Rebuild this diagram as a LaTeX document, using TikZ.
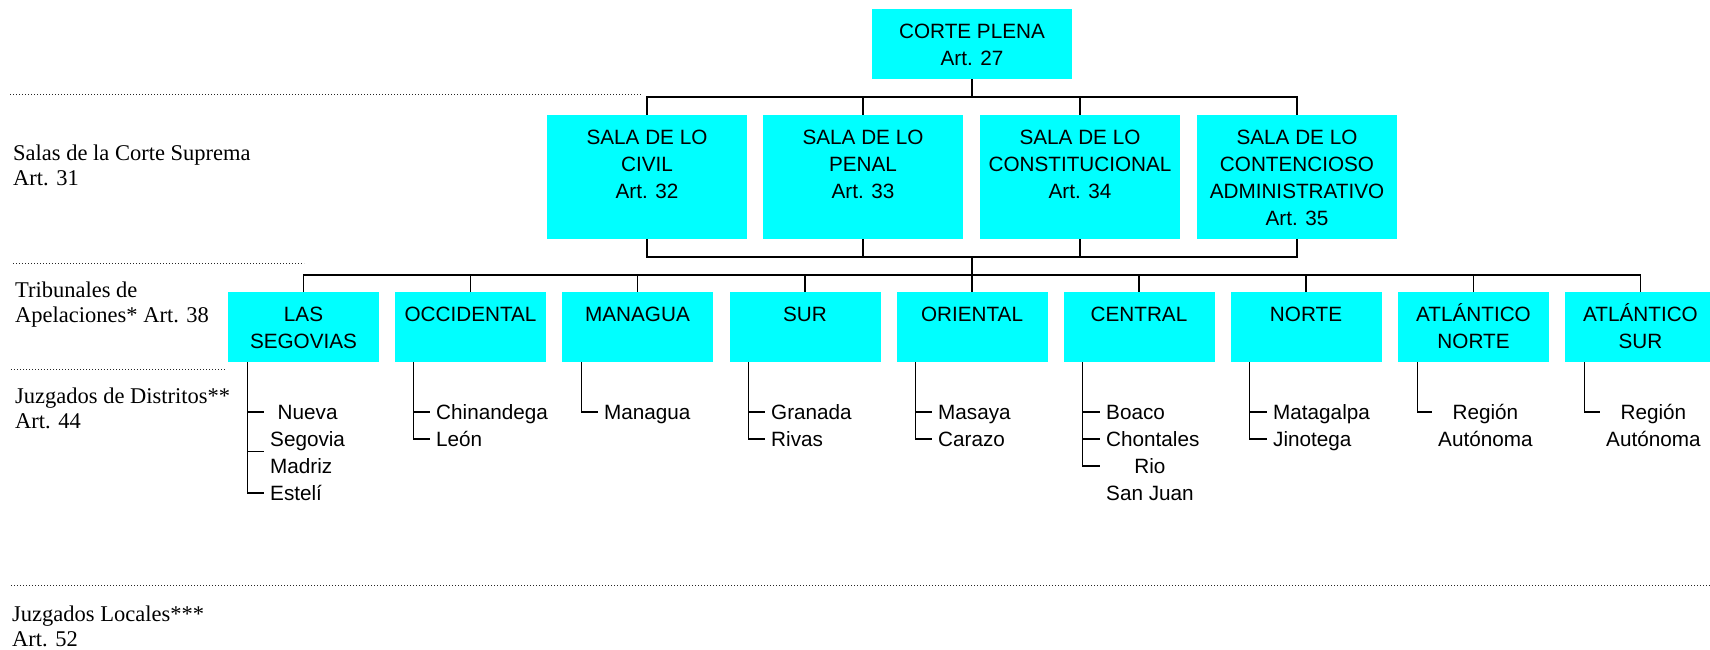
\documentclass[tikz,border=0pt]{standalone}
\usepackage{fontspec}
\setmainfont{Liberation Serif}
\newfontfamily\arialfont{Liberation Sans}
\definecolor{boxcyan}{RGB}{0,255,255}

\newcommand{\boxlines}[3]{\parbox[t][#1][t]{#2}{\centering\rule{0pt}{29pt}#3}}

\tikzset{
  orgbox/.style={fill=boxcyan, inner sep=0pt, anchor=north, font=\arialfont\fontsize{20.7}{27}\selectfont},
  distr/.style={anchor=north west, inner xsep=6pt, inner ysep=0pt, align=left, font=\arialfont\fontsize{20.7}{27}\selectfont, execute at begin node=\strut},
  lbl/.style={anchor=north west, inner sep=0pt, align=left, font=\fontsize{22.5}{25.5}\selectfont},
  conn/.style={line width=1.3pt},
  rowline/.style={line width=1pt, black!85, dash pattern=on 1pt off 2pt}
}

\begin{document}
\begin{tikzpicture}[x=1pt, y=-1pt]
  \useasboundingbox (0,0) rectangle (1710,649);

  \draw[rowline] (10,94) -- (641,94);
  \draw[rowline] (13,263) -- (304,263);
  \draw[rowline] (11,369) -- (226,369);
  \draw[rowline] (11,585) -- (1710,585);

  \node[lbl] (salaslbl) at (13,142) {\strut Salas de la Corte Suprema\\Art. 31};
  \node[lbl] (triblbl) at (15,279) {\strut Tribunales de\\Apelaciones* Art. 38};
  \node[lbl] (distlbl) at (15,385) {\strut Juzgados de Distritos**\\Art. 44};
  \node[lbl] (locallbl) at (12,603) {\strut Juzgados Locales***\\Art. 52};

  \node[orgbox] (corte) at (972,9) {\boxlines{70pt}{200pt}{CORTE PLENA\\Art. 27}};

  \node[orgbox] (civil) at (647,115) {\boxlines{124pt}{200pt}{SALA DE LO\\CIVIL\\Art. 32}};
  \node[orgbox] (penal) at (863,115) {\boxlines{124pt}{200pt}{SALA DE LO\\PENAL\\Art. 33}};
  \node[orgbox] (const) at (1080,115) {\boxlines{124pt}{200pt}{SALA DE LO\\CONSTITUCIONAL\\Art. 34}};
  \node[orgbox] (conten) at (1297,115) {\boxlines{124pt}{200pt}{SALA DE LO\\CONTENCIOSO\\ADMINISTRATIVO\\Art. 35}};

  \node[orgbox] (segovias) at (303.5,292) {\boxlines{70pt}{151pt}{LAS\\SEGOVIAS}};
  \node[orgbox] (occid) at (470.5,292) {\boxlines{70pt}{151pt}{OCCIDENTAL}};
  \node[orgbox] (managua) at (637.5,292) {\boxlines{70pt}{151pt}{MANAGUA}};
  \node[orgbox] (sur) at (805,292) {\boxlines{70pt}{151pt}{SUR}};
  \node[orgbox] (orient) at (972,292) {\boxlines{70pt}{151pt}{ORIENTAL}};
  \node[orgbox] (central) at (1139,292) {\boxlines{70pt}{151pt}{CENTRAL}};
  \node[orgbox] (norte) at (1306,292) {\boxlines{70pt}{151pt}{NORTE}};
  \node[orgbox] (atlnorte) at (1473.5,292) {\boxlines{70pt}{151pt}{ATLÁNTICO\\NORTE}};
  \node[orgbox] (atlsur) at (1640.5,292) {\boxlines{70pt}{151pt}{ATLÁNTICO\\SUR}};

  \coordinate (plenabar) at (972,97);
  \coordinate (salabar) at (972,257);
  \coordinate (tribbar) at (972,275);

  \draw[conn] (corte.south) -- (plenabar);
  \draw[conn] (plenabar) -| (civil.north);
  \draw[conn] (plenabar) -| (penal.north);
  \draw[conn] (plenabar) -| (const.north);
  \draw[conn] (plenabar) -| (conten.north);

  \draw[conn] (civil.south) |- (salabar);
  \draw[conn] (penal.south) |- (salabar);
  \draw[conn] (const.south) |- (salabar);
  \draw[conn] (conten.south) |- (salabar);
  \draw[conn] (salabar) -- (tribbar);

  \draw[conn] (tribbar) -| (segovias.north);
  \draw[conn] (tribbar) -| (occid.north);
  \draw[conn] (tribbar) -| (managua.north);
  \draw[conn] (tribbar) -| (sur.north);
  \draw[conn] (tribbar) -| (orient.north);
  \draw[conn] (tribbar) -| (central.north);
  \draw[conn] (tribbar) -| (norte.north);
  \draw[conn] (tribbar) -| (atlnorte.north);
  \draw[conn] (tribbar) -| (atlsur.north);

  \coordinate (segstem) at ([xshift=19.5pt]segovias.south west);
  \coordinate (occstem) at ([xshift=19pt]occid.south west);
  \coordinate (manstem) at ([xshift=19.5pt]managua.south west);
  \coordinate (surstem) at ([xshift=19.5pt]sur.south west);
  \coordinate (oristem) at ([xshift=19.5pt]orient.south west);
  \coordinate (censtem) at ([xshift=19.5pt]central.south west);
  \coordinate (norstem) at ([xshift=19.5pt]norte.south west);
  \coordinate (atnstem) at ([xshift=19.5pt]atlnorte.south west);
  \coordinate (atsstem) at ([xshift=19.5pt]atlsur.south west);

  \node[distr, align=center] (nueva) at (264,400.5) {\strut Nueva\\Segovia};
  \node[distr] (madriz) at (264,454.5) {Madriz};
  \node[distr] (esteli) at (264,481.5) {Estelí};
  \draw[conn] (segstem) |- ([yshift=-11.5pt]nueva.north west);
  \draw[conn] (segstem) |- ([yshift=3pt]madriz.north west);
  \draw[conn] (segstem) |- ([yshift=-11.5pt]esteli.north west);

  \node[distr] (chinand) at (430,400.5) {Chinandega};
  \node[distr] (leon) at (430,427.5) {León};
  \draw[conn] (occstem) |- ([yshift=-11.5pt]chinand.north west);
  \draw[conn] (occstem) |- ([yshift=-11.5pt]leon.north west);

  \node[distr] (mgua) at (598,400.5) {Managua};
  \draw[conn] (manstem) |- ([yshift=-11.5pt]mgua.north west);

  \node[distr] (granada) at (765,400.5) {Granada};
  \node[distr] (rivas) at (765,427.5) {Rivas};
  \draw[conn] (surstem) |- ([yshift=-11.5pt]granada.north west);
  \draw[conn] (surstem) |- ([yshift=-11.5pt]rivas.north west);

  \node[distr] (masaya) at (932,400.5) {Masaya};
  \node[distr] (carazo) at (932,427.5) {Carazo};
  \draw[conn] (oristem) |- ([yshift=-11.5pt]masaya.north west);
  \draw[conn] (oristem) |- ([yshift=-11.5pt]carazo.north west);

  \node[distr] (boaco) at (1100,400.5) {Boaco};
  \node[distr] (chontal) at (1100,427.5) {Chontales};
  \node[distr, align=center] (riosj) at (1100,454.5) {\strut Rio\\San Juan};
  \draw[conn] (censtem) |- ([yshift=-11.5pt]boaco.north west);
  \draw[conn] (censtem) |- ([yshift=-11.5pt]chontal.north west);
  \draw[conn] (censtem) |- ([yshift=-11.5pt]riosj.north west);

  \node[distr] (matag) at (1267,400.5) {Matagalpa};
  \node[distr] (jinot) at (1267,427.5) {Jinotega};
  \draw[conn] (norstem) |- ([yshift=-11.5pt]matag.north west);
  \draw[conn] (norstem) |- ([yshift=-11.5pt]jinot.north west);

  \node[distr, align=center] (regnorte) at (1432,400.5) {\strut Región\\Autónoma};
  \draw[conn] (atnstem) |- ([yshift=-11.5pt]regnorte.north west);

  \node[distr, align=center] (regsur) at (1600,400.5) {\strut Región\\Autónoma};
  \draw[conn] (atsstem) |- ([yshift=-11.5pt]regsur.north west);
\end{tikzpicture}
\end{document}
